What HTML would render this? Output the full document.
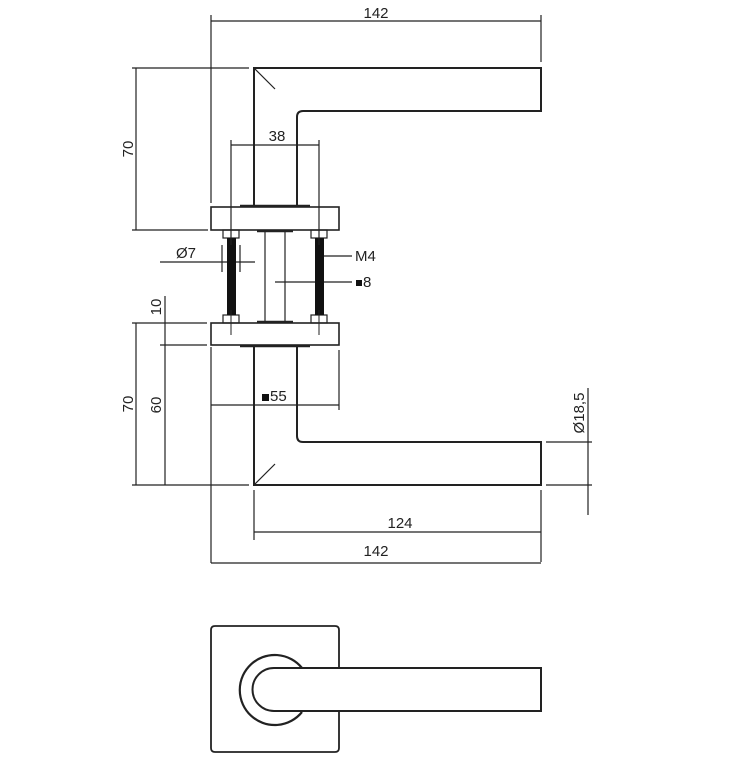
<!DOCTYPE html>
<html><head><meta charset="utf-8"><style>
html,body{margin:0;padding:0;background:#fff;}
svg{display:block;}
text{font-family:"Liberation Sans",sans-serif;font-size:15px;fill:#222;}
</style></head><body>
<svg width="747" height="763" viewBox="0 0 747 763" xmlns="http://www.w3.org/2000/svg">
<g fill="none" stroke="#222" stroke-width="1.2">
<line x1="211" y1="21" x2="541" y2="21"/>
<line x1="211" y1="15" x2="211" y2="203"/>
<line x1="541" y1="15" x2="541" y2="62"/>
<path d="M254 206 V68 H541 V111 H303 Q297 111 297 117 V206" stroke-width="2"/>
<line x1="254" y1="68" x2="275" y2="89"/>
<line x1="136" y1="68" x2="136" y2="230"/>
<line x1="132" y1="68" x2="249" y2="68"/>
<line x1="132" y1="230" x2="208" y2="230"/>
<line x1="231" y1="145" x2="319" y2="145"/>
<line x1="231" y1="140" x2="231" y2="245"/>
<line x1="319" y1="140" x2="319" y2="245"/>
<rect x="211" y="207" width="128" height="23" stroke-width="1.6"/>
<line x1="240" y1="206" x2="310" y2="206" stroke-width="2.5"/>
<line x1="257" y1="231" x2="293" y2="231" stroke-width="2.5"/>
<line x1="257" y1="322" x2="293" y2="322" stroke-width="2.5"/>
<line x1="265" y1="232" x2="265" y2="322"/>
<line x1="285" y1="232" x2="285" y2="322"/>
<rect x="223" y="230" width="16" height="8"/>
<rect x="311" y="230" width="16" height="8"/>
<rect x="223" y="315" width="16" height="8"/>
<rect x="311" y="315" width="16" height="8"/>
<rect x="211" y="323" width="128" height="22" stroke-width="1.6"/>
<line x1="240" y1="346" x2="310" y2="346" stroke-width="2.5"/>
<line x1="160" y1="262" x2="255" y2="262"/>
<line x1="222" y1="245" x2="222" y2="272"/>
<line x1="240" y1="245" x2="240" y2="272"/>
<line x1="323" y1="256" x2="352" y2="256"/>
<line x1="275" y1="282" x2="352" y2="282"/>
<line x1="136" y1="323" x2="136" y2="485"/>
<line x1="132" y1="323" x2="207" y2="323"/>
<line x1="165" y1="296" x2="165" y2="485"/>
<line x1="160" y1="345" x2="207" y2="345"/>
<line x1="132" y1="485" x2="249" y2="485"/>
<path d="M254 347 V485 H541 V442 H303 Q297 442 297 436 V347" stroke-width="2"/>
<line x1="254" y1="485" x2="275" y2="464"/>
<line x1="211" y1="405" x2="339" y2="405"/>
<line x1="211" y1="347" x2="211" y2="563"/>
<line x1="339" y1="350" x2="339" y2="410"/>
<line x1="588" y1="388" x2="588" y2="515"/>
<line x1="546" y1="442" x2="592" y2="442"/>
<line x1="546" y1="485" x2="592" y2="485"/>
<line x1="254" y1="532" x2="541" y2="532"/>
<line x1="254" y1="490" x2="254" y2="540"/>
<line x1="541" y1="490" x2="541" y2="562"/>
<line x1="211" y1="563" x2="541" y2="563"/>
<path d="M339 668 V630 Q339 626 335 626 H215 Q211 626 211 630 V748 Q211 752 215 752 H335 Q339 752 339 748 V711" stroke-width="1.8"/>
<path d="M302 668 A35 35 0 1 0 302 712" stroke-width="2.2"/>
<path d="M541 668 H274 A21.5 21.5 0 0 0 274 711 H541 Z" stroke-width="2"/>
</g>
<rect x="227" y="238" width="9" height="77" fill="#111"/>
<rect x="315" y="238" width="9" height="77" fill="#111"/>
<g stroke="#222" stroke-width="1">
<line x1="231" y1="225" x2="231" y2="245"/>
<line x1="319" y1="225" x2="319" y2="245"/>
<line x1="231" y1="310" x2="231" y2="335"/>
<line x1="319" y1="310" x2="319" y2="335"/>
</g>
<text x="376" y="18" text-anchor="middle">142</text>
<text x="277" y="141" text-anchor="middle">38</text>
<text x="176" y="258">Ø7</text>
<text x="355" y="261">M4</text>
<rect x="356" y="280" width="6" height="6" fill="#111"/>
<text x="363" y="287">8</text>
<rect x="262" y="394" width="7" height="7" fill="#111"/>
<text x="270" y="401">55</text>
<text x="400" y="528" text-anchor="middle">124</text>
<text x="376" y="556" text-anchor="middle">142</text>
<text transform="translate(133,149) rotate(-90)" text-anchor="middle">70</text>
<text transform="translate(133,404) rotate(-90)" text-anchor="middle">70</text>
<text transform="translate(161,405) rotate(-90)" text-anchor="middle">60</text>
<text transform="translate(161,307) rotate(-90)" text-anchor="middle">10</text>
<text transform="translate(584,413) rotate(-90)" text-anchor="middle">Ø18,5</text>
</svg>
</body></html>
